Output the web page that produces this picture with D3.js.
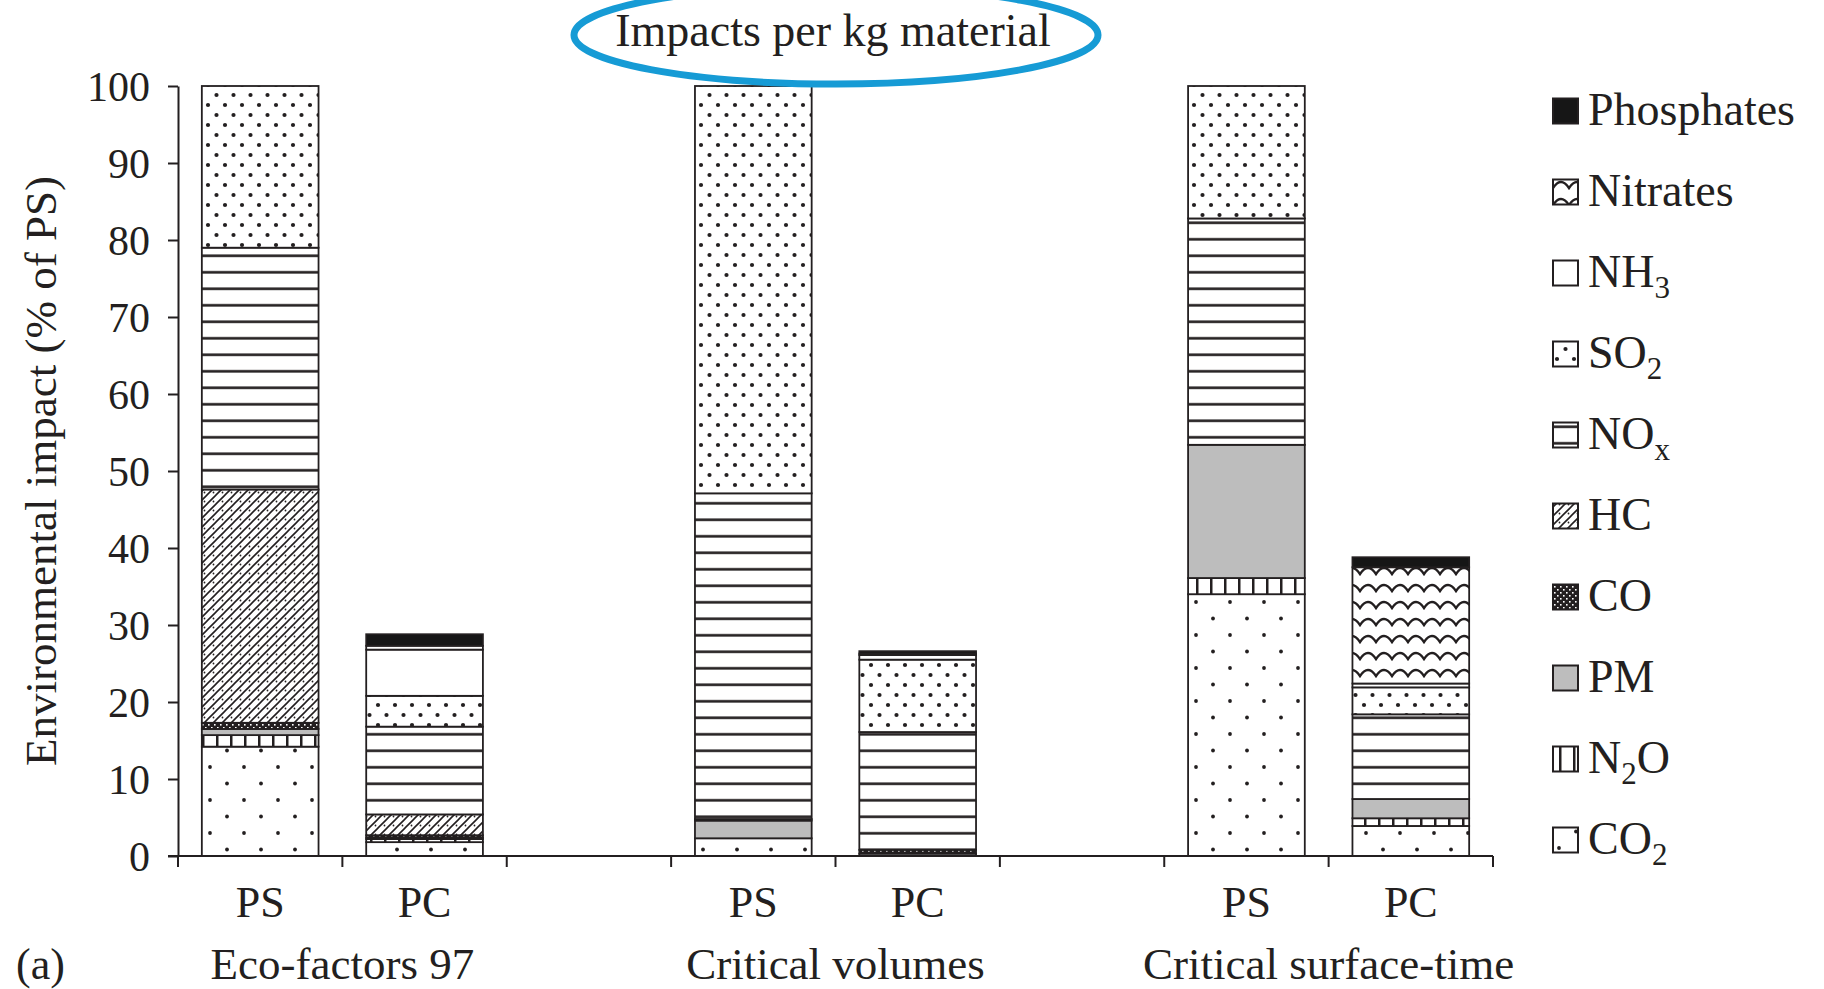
<!DOCTYPE html>
<html>
<head>
<meta charset="utf-8">
<script src="https://cdn.jsdelivr.net/npm/d3@7"></script>
<style>
  html, body { margin: 0; padding: 0; background: #fff; }
  svg text { font-family: 'Liberation Serif', 'DejaVu Serif', serif; fill: #231f20; }
</style>
</head>
<body>
<script>
'use strict'

// stack order, bottom to top
const pollutants = ['CO2', 'N2O', 'PM', 'CO', 'HC', 'NOx', 'SO2', 'NH3', 'Nitrates', 'Phosphates']
const methods    = ['Eco-factors 97', 'Critical volumes', 'Critical surface-time']
const materials  = ['PS', 'PC']
const yTicks     = [0, 10, 20, 30, 40, 50, 60, 70, 80, 90, 100]

// values, % of PS, same order as pollutants
const ecoPS  = [14.2, 1.5, 0.8, 0.8, 30.3, 31.4, 21.0, 0, 0, 0]
const ecoPC  = [1.8, 0.4, 0.2, 0.3, 2.7, 11.4, 4.0, 6.0, 0.5, 1.5]
const volPS  = [2.3, 0, 2.3, 0.2, 0, 42.3, 52.9, 0, 0, 0]
const volPC  = [0.3, 0, 0, 0.5, 0, 15.3, 9.4, 0.6, 0.2, 0.3]
const surfPS = [34.0, 2.1, 17.3, 0, 0, 29.4, 17.2, 0, 0, 0]
const surfPC = [3.9, 1.0, 2.5, 0, 0, 11.0, 3.5, 0.5, 15.1, 1.3]

const INK  = '#231f20'
const GREY = '#bdbdbd'
const BLUE = '#169bd5'

const W = 1824
const H = 989

const bars = [
  { key: 'eco-PS',  method: methods[0], material: materials[0], values: ecoPS },
  { key: 'eco-PC',  method: methods[0], material: materials[1], values: ecoPC },
  { key: 'gap-1' },
  { key: 'vol-PS',  method: methods[1], material: materials[0], values: volPS },
  { key: 'vol-PC',  method: methods[1], material: materials[1], values: volPC },
  { key: 'gap-2' },
  { key: 'surf-PS', method: methods[2], material: materials[0], values: surfPS },
  { key: 'surf-PC', method: methods[2], material: materials[1], values: surfPC },
]

const rows = bars.filter(b => b.values).map(b => {
  const row = { key: b.key }
  pollutants.forEach((p, i) => { row[p] = b.values[i] })
  return row
})

const svg = d3.select('body')
  .append('svg')
  .attr('width', W)
  .attr('height', H)

const x = d3.scaleBand()
  .domain(bars.map(b => b.key))
  .range([178, 1493])

const y = d3.scaleLinear()
  .domain([0, 100])
  .range([856, 86])

const barW = x.bandwidth() * 0.71
const barX = key => x(key) + (x.bandwidth() - barW) / 2

// ---- patterns
const defs = svg.append('defs')

function pattern(id, w, h) {
  return defs.append('pattern')
    .attr('id', id)
    .attr('patternUnits', 'userSpaceOnUse')
    .attr('width', w)
    .attr('height', h)
}

// CO2: sparse staggered dots
let p = pattern('p-CO2', 34, 33)
p.append('rect').attr('width', 34).attr('height', 33).attr('fill', '#fff')
p.append('circle').attr('cx', 6).attr('cy', 8).attr('r', 1.9).attr('fill', INK)
p.append('circle').attr('cx', 23).attr('cy', 24.5).attr('r', 1.9).attr('fill', INK)

// N2O: vertical stripes
p = pattern('p-N2O', 14, 14)
p.append('rect').attr('width', 14).attr('height', 14).attr('fill', '#fff')
p.append('rect').attr('x', 6).attr('width', 2.5).attr('height', 14).attr('fill', INK)

// PM: plain grey
p = pattern('p-PM', 10, 10)
p.append('rect').attr('width', 10).attr('height', 10).attr('fill', GREY)

// CO: dark checker
p = pattern('p-CO', 6, 6)
p.append('rect').attr('width', 6).attr('height', 6).attr('fill', INK)
p.append('rect').attr('x', 1).attr('y', 1).attr('width', 1.6).attr('height', 1.6).attr('fill', '#fff')
p.append('rect').attr('x', 4).attr('y', 4).attr('width', 1.6).attr('height', 1.6).attr('fill', '#fff')

// HC: diagonal hatch with faint dots
p = pattern('p-HC', 9, 9)
p.append('rect').attr('width', 9).attr('height', 9).attr('fill', '#fff')
p.append('path')
  .attr('d', 'M-2,2 L2,-2 M0,9 L9,0 M7,11 L11,7')
  .attr('stroke', INK)
  .attr('stroke-width', 1.6)
p.append('circle').attr('cx', 6.5).attr('cy', 6.5).attr('r', 0.9).attr('fill', INK)

// NOx: horizontal lines
p = pattern('p-NOx', 20, 16.5)
p.append('rect').attr('width', 20).attr('height', 16.5).attr('fill', '#fff')
p.append('rect').attr('y', 7).attr('width', 20).attr('height', 2.6).attr('fill', INK)

// SO2: dense staggered dots
p = pattern('p-SO2', 17, 20)
p.append('rect').attr('width', 17).attr('height', 20).attr('fill', '#fff')
p.append('circle').attr('cx', 4).attr('cy', 5).attr('r', 2.1).attr('fill', INK)
p.append('circle').attr('cx', 12.5).attr('cy', 15).attr('r', 2.1).attr('fill', INK)

// NH3: white
p = pattern('p-NH3', 10, 10)
p.append('rect').attr('width', 10).attr('height', 10).attr('fill', '#fff')

// Nitrates: waves
p = pattern('p-Nitrates', 32, 17)
p.append('rect').attr('width', 32).attr('height', 17).attr('fill', '#fff')
p.append('path')
  .attr('d', 'M-16,13 Q-8,1 0,13 Q8,1 16,13 Q24,1 32,13 Q40,1 48,13')
  .attr('fill', 'none')
  .attr('stroke', INK)
  .attr('stroke-width', 2.4)

// Phosphates: solid black
p = pattern('p-Phosphates', 10, 10)
p.append('rect').attr('width', 10).attr('height', 10).attr('fill', '#161616')

// ---- bars
const stacked = d3.stack().keys(pollutants)(rows)

svg.append('g')
  .selectAll('g')
  .data(stacked)
  .join('g')
  .attr('fill', d => `url(#p-${ d.key })`)
  .selectAll('rect')
  .data(d => d.filter(s => s[1] - s[0] > 0))
  .join('rect')
  .attr('x', d => barX(d.data.key))
  .attr('y', d => y(d[1]))
  .attr('width', barW)
  .attr('height', d => y(d[0]) - y(d[1]))
  .attr('stroke', INK)
  .attr('stroke-width', 1.8)

// ---- y axis
const yAxis = svg.append('g')
  .attr('transform', `translate(${ x.range()[0] },0)`)
  .call(d3.axisLeft(y).tickValues(yTicks).tickSize(10).tickSizeOuter(0).tickPadding(18))

yAxis.select('.domain').attr('stroke', INK).attr('stroke-width', 2)
yAxis.selectAll('.tick line').attr('stroke', INK).attr('stroke-width', 2)
yAxis.selectAll('.tick text')
  .attr('font-size', 42)
  .attr('font-family', "'Liberation Serif', serif")
  .attr('fill', INK)
  .attr('dy', '0.34em')

svg.append('text')
  .attr('transform', `translate(41,${ (y(0) + y(100)) / 2 }) rotate(-90)`)
  .attr('text-anchor', 'middle')
  .attr('dy', '0.33em')
  .attr('font-size', 45)
  .text('Environmental impact (% of PS)')

// ---- x axis
const xAxis = svg.append('g')

xAxis.append('line')
  .attr('x1', x.range()[0] - 10)
  .attr('x2', x.range()[1])
  .attr('y1', y(0))
  .attr('y2', y(0))
  .attr('stroke', INK)
  .attr('stroke-width', 2)

const bounds = bars.map(b => x(b.key)).concat([x.range()[1]])

xAxis.selectAll('.xtick')
  .data(bounds)
  .join('line')
  .attr('class', 'xtick')
  .attr('x1', d => d)
  .attr('x2', d => d)
  .attr('y1', y(0))
  .attr('y2', y(0) + 11)
  .attr('stroke', INK)
  .attr('stroke-width', 2)

xAxis.selectAll('.mat')
  .data(bars.filter(b => b.values))
  .join('text')
  .attr('class', 'mat')
  .attr('x', d => x(d.key) + x.bandwidth() / 2)
  .attr('y', 917)
  .attr('text-anchor', 'middle')
  .attr('font-size', 44)
  .text(d => d.material)

xAxis.selectAll('.method')
  .data(methods)
  .join('text')
  .attr('class', 'method')
  .attr('x', (m, i) => x(bars[i * 3].key) + x.bandwidth())
  .attr('y', 979)
  .attr('text-anchor', 'middle')
  .attr('font-size', 45)
  .text(d => d)

svg.append('text')
  .attr('x', 16)
  .attr('y', 979)
  .attr('font-size', 44)
  .text('(a)')

// ---- title with ellipse
svg.append('text')
  .attr('x', 833)
  .attr('y', 46)
  .attr('text-anchor', 'middle')
  .attr('font-size', 46)
  .text('Impacts per kg material')

svg.append('ellipse')
  .attr('cx', 836)
  .attr('cy', 35)
  .attr('rx', 262)
  .attr('ry', 49)
  .attr('fill', 'none')
  .attr('stroke', BLUE)
  .attr('stroke-width', 7)

// ---- legend, top row is the last pollutant
const legendLabels = {
  CO2: ['CO', '2', ''],
  N2O: ['N', '2', 'O'],
  PM: ['PM'],
  CO: ['CO'],
  HC: ['HC'],
  NOx: ['NO', 'x', ''],
  SO2: ['SO', '2', ''],
  NH3: ['NH', '3', ''],
  Nitrates: ['Nitrates'],
  Phosphates: ['Phosphates'],
}

const legendKeys = pollutants.slice().reverse()
const legendRow = d3.scalePoint().domain(legendKeys).range([111, 840])

const legend = svg.append('g')
  .selectAll('g')
  .data(legendKeys)
  .join('g')
  .attr('transform', d => `translate(1553,${ legendRow(d) })`)

legend.append('rect')
  .attr('x', 0)
  .attr('y', -12.5)
  .attr('width', 25)
  .attr('height', 25)
  .attr('fill', d => `url(#p-${ d })`)
  .attr('stroke', INK)
  .attr('stroke-width', 2)

legend.each(function (d) {
  const parts = legendLabels[d]
  const t = d3.select(this).append('text')
    .attr('x', 35)
    .attr('y', 14)
    .attr('font-size', 46)
  t.append('tspan').text(parts[0])
  if (parts.length > 1) {
    t.append('tspan').attr('font-size', 31).attr('dy', 11).text(parts[1])
    if (parts[2]) t.append('tspan').attr('dy', -11).text(parts[2])
  }
})
</script>
</body>
</html>
